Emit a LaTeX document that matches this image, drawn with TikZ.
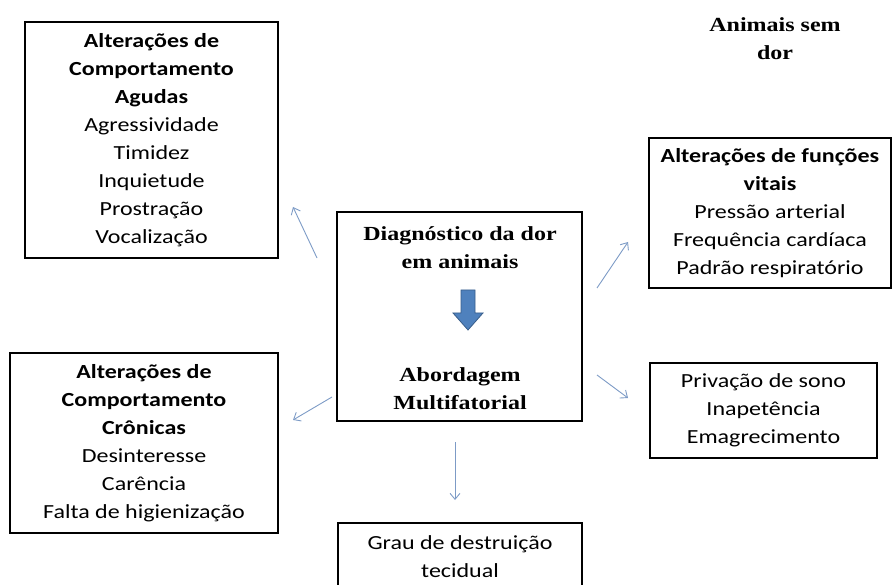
\documentclass[tikz,border=0pt]{standalone}
\usepackage{fontspec}
\usetikzlibrary{arrows.meta}
\setmainfont[FakeStretch=1.2]{Liberation Serif}
\newfontfamily\calib[FakeStretch=1.2]{Carlito}
\definecolor{linkblue}{RGB}{125,155,198}
\definecolor{arrowfill}{RGB}{79,129,189}
\definecolor{arrowline}{RGB}{56,93,138}
\tikzset{
  box/.style = {draw, line width=2.2pt, align=center, inner sep=0pt,
    font=\calib\fontsize{20}{28}\selectfont},
  serifbold/.style = {align=center, font=\rmfamily\bfseries\fontsize{20}{28}\selectfont},
  lnk/.style = {draw=linkblue, line width=0.9pt, -{Straight Barb[length=6pt, width=10pt]}}
}
\begin{document}
\begin{tikzpicture}[x=1pt, y=-1pt]
        \useasboundingbox (0, 0) rectangle (892, 585);
        %nodes
        \node[box, minimum width=253, minimum height=236] (agudas) at (151.5, 140)
          {\textbf{Alterações de}\\\textbf{Comportamento}\\\textbf{Agudas}\\Agressividade\\Timidez\\Inquietude\\Prostração\\Vocalização};
        \node[serifbold] (semdor) at (775, 39) {Animais sem\\dor};
        \node[box, minimum width=242, minimum height=150] (vitais) at (770, 213)
          {\textbf{Alterações de funções}\\\textbf{vitais}\\Pressão arterial\\Frequência cardíaca\\Padrão respiratório};
        \node[box, minimum width=245, minimum height=209] (diag) at (459.5, 316.5) {};
        \node[serifbold] (diagtop) at (460, 247.5) {Diagnóstico da dor\\em animais};
        \node[serifbold] (diagbot) at (460, 388.5) {Abordagem\\Multifatorial};
        \node[box, minimum width=227, minimum height=95] (sono) at (763.5, 410.5)
          {Privação de sono\\Inapetência\\Emagrecimento};
        \node[box, minimum width=268, minimum height=180] (cronicas) at (144, 443)
          {\textbf{Alterações de}\\\textbf{Comportamento}\\\textbf{Crônicas}\\Desinteresse\\Carência\\Falta de higienização};
        \node[box, minimum width=244, minimum height=68] (tecido) at (460, 557)
          {Grau de destruição\\tecidual};
        % blue arrow inside the centre box
        \draw[fill=arrowfill, draw=arrowline, line width=0.8pt]
          (461, 290) -- (475, 290) -- (475, 313) -- (483, 313) -- (468, 330)
          -- (453, 313) -- (461, 313) -- cycle;
        %edges
        \coordinate (a1) at (317, 258); \coordinate (a2) at (293, 207);
        \coordinate (b1) at (597, 288); \coordinate (b2) at (628, 242);
        \coordinate (c1) at (597, 375); \coordinate (c2) at (628, 398);
        \coordinate (d1) at (332, 397); \coordinate (d2) at (293, 420);
        \coordinate (e1) at (455, 442); \coordinate (e2) at (455, 500);
        \path [lnk] (a1) to (a2);
        \path [lnk] (b1) to (b2);
        \path [lnk] (c1) to (c2);
        \path [lnk] (d1) to (d2);
        \path [lnk] (e1) to (e2);
\end{tikzpicture}
\end{document}
